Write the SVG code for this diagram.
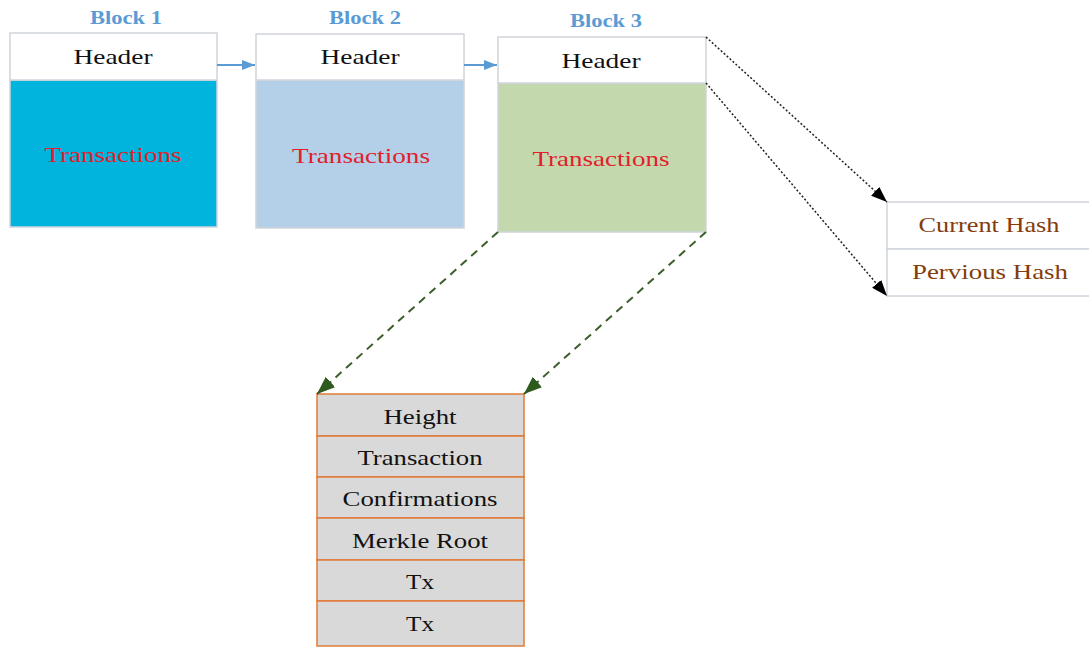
<svg xmlns="http://www.w3.org/2000/svg" width="1089" height="648" viewBox="0 0 1089 648">
<defs>
<style>
text{font-family:'Liberation Serif','Times New Roman','DejaVu Serif',serif;text-anchor:middle}
.lbl{font-weight:bold;font-size:19px;fill:#5B9BD5}
.hdr{fill:#fff;stroke:#D0D5DC;stroke-width:1.5}
.hdrt{font-size:22px;fill:#111}
.txt{font-size:22px;fill:#E0202A}
.body{stroke:#D0D5DC;stroke-width:1.5}
.hash{fill:#fff;stroke:#D0D5DC;stroke-width:1.5}
.hasht{font-size:22px;fill:#843C0C}
.row{fill:#D9D9D9;stroke:#E07B39;stroke-width:1.5}
.rowt{font-size:21px;fill:#111}
.blue{stroke:#5B9BD5;stroke-width:2;fill:none}
.dot{stroke:#222;stroke-width:1.5;stroke-dasharray:2 2;fill:none}
.dash{stroke:#3B5E2B;stroke-width:2;stroke-dasharray:8 6;fill:none}
</style>
<marker id="mb" markerWidth="13" markerHeight="10" refX="13" refY="5" orient="auto" markerUnits="userSpaceOnUse"><path d="M0,0 L13,5 L0,10 z" fill="#5B9BD5"/></marker>
<marker id="mk" markerWidth="16" markerHeight="12" refX="16" refY="6" orient="auto" markerUnits="userSpaceOnUse"><path d="M0,0 L16,6 L0,12 z" fill="#000"/></marker>
<marker id="mg" markerWidth="18" markerHeight="14" refX="18" refY="7" orient="auto" markerUnits="userSpaceOnUse"><path d="M0,0 L18,7 L0,14 z" fill="#2F5A1E"/></marker>
</defs>
<rect width="1089" height="648" fill="#fff"/>
<g id="block1">
<text class="lbl" x="126" y="24" textLength="72" lengthAdjust="spacingAndGlyphs">Block 1</text>
<rect class="body" x="10" y="80" width="207" height="147" fill="#00B4DD"/>
<rect class="hdr" x="10" y="33" width="207" height="47"/>
<text class="hdrt" x="113" y="64" textLength="79" lengthAdjust="spacingAndGlyphs">Header</text>
<text class="txt" x="113" y="162" textLength="137" lengthAdjust="spacingAndGlyphs">Transactions</text>
</g>
<g id="block2">
<text class="lbl" x="365" y="24" textLength="72" lengthAdjust="spacingAndGlyphs">Block 2</text>
<rect class="body" x="256" y="80" width="208" height="148" fill="#B4D0E8"/>
<rect class="hdr" x="256" y="34" width="208" height="46"/>
<text class="hdrt" x="360" y="64" textLength="79" lengthAdjust="spacingAndGlyphs">Header</text>
<text class="txt" x="361" y="163" textLength="138" lengthAdjust="spacingAndGlyphs">Transactions</text>
</g>
<g id="block3">
<text class="lbl" x="606" y="27" textLength="72" lengthAdjust="spacingAndGlyphs">Block 3</text>
<rect class="body" x="498" y="83" width="208" height="149" fill="#C4D8AE"/>
<rect class="hdr" x="498" y="37" width="208" height="46"/>
<text class="hdrt" x="601" y="68" textLength="79" lengthAdjust="spacingAndGlyphs">Header</text>
<text class="txt" x="601" y="166" textLength="137" lengthAdjust="spacingAndGlyphs">Transactions</text>
</g>
<g id="hashes">
<rect class="hash" x="887" y="202" width="204" height="47"/>
<rect class="hash" x="887" y="249" width="204" height="47"/>
<text class="hasht" x="989" y="232" textLength="141" lengthAdjust="spacingAndGlyphs">Current Hash</text>
<text class="hasht" x="990" y="279" textLength="156" lengthAdjust="spacingAndGlyphs">Pervious Hash</text>
</g>
<g id="details">
<rect class="row" x="317" y="394" width="207" height="42"/>
<rect class="row" x="317" y="436" width="207" height="41"/>
<rect class="row" x="317" y="477" width="207" height="41"/>
<rect class="row" x="317" y="518" width="207" height="42"/>
<rect class="row" x="317" y="560" width="207" height="41"/>
<rect class="row" x="317" y="601" width="207" height="45"/>
<text class="rowt" x="420" y="424" textLength="73" lengthAdjust="spacingAndGlyphs">Height</text>
<text class="rowt" x="420" y="465" textLength="125" lengthAdjust="spacingAndGlyphs">Transaction</text>
<text class="rowt" x="420" y="506" textLength="155" lengthAdjust="spacingAndGlyphs">Confirmations</text>
<text class="rowt" x="420" y="548" textLength="136" lengthAdjust="spacingAndGlyphs">Merkle Root</text>
<text class="rowt" x="420" y="589" textLength="28" lengthAdjust="spacingAndGlyphs">Tx</text>
<text class="rowt" x="420" y="631" textLength="28" lengthAdjust="spacingAndGlyphs">Tx</text>
</g>
<g id="connectors">
<line class="blue" x1="217" y1="65" x2="255" y2="65" marker-end="url(#mb)"/>
<line class="blue" x1="464" y1="65" x2="497" y2="65" marker-end="url(#mb)"/>
<line class="dot" x1="706" y1="37" x2="887" y2="202" marker-end="url(#mk)"/>
<line class="dot" x1="706" y1="83" x2="887" y2="296" marker-end="url(#mk)"/>
<line class="dash" x1="498" y1="232" x2="317" y2="394" marker-end="url(#mg)"/>
<line class="dash" x1="706" y1="232" x2="524" y2="394" marker-end="url(#mg)"/>
</g>
</svg>
